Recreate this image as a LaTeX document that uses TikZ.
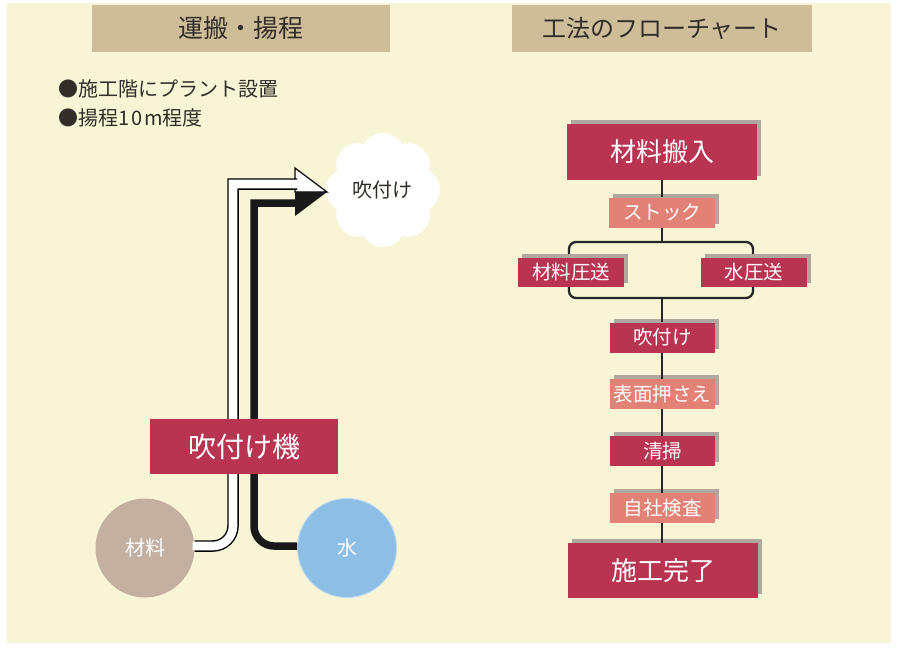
\documentclass[tikz,border=0pt]{standalone}
\usepackage{fontspec}
\setmainfont{Noto Sans CJK JP}
\usetikzlibrary{shadows,calc}
\definecolor{cream}{RGB}{248,245,214}
\definecolor{tan}{RGB}{205,189,152}
\definecolor{crimson}{RGB}{184,52,80}
\definecolor{salmon}{RGB}{226,130,118}
\definecolor{taupe}{RGB}{196,176,160}
\definecolor{sky}{RGB}{140,190,230}
\definecolor{shadowgray}{RGB}{176,168,158}
\definecolor{titletext}{RGB}{50,45,40}
\tikzset{
  fs/.style={font=\fontsize{#1}{#1}\selectfont},
  titlebox/.style={fill=tan, draw=none, text=titletext, fs=24, inner sep=0pt, minimum width=298, minimum height=47},
  flowbox/.style={fill=#1, text=white, inner sep=0pt, draw=none,
    drop shadow={shadow xshift=4pt, shadow yshift=4pt, fill=shadowgray, opacity=1}},
  bigbox/.style={flowbox=crimson, minimum width=190, minimum height=56, fs=26},
  smallbox/.style={flowbox=#1, minimum width=106, minimum height=30, fs=19.5},
  flowline/.style={line width=2.3pt, draw=black!85},
  circ/.style={circle, fill=#1, minimum size=99, inner sep=0pt, text=white, fs=20},
}
\begin{document}
\begin{tikzpicture}[x=1pt, y=-1pt]
\useasboundingbox (0,0) rectangle (899,648);
\fill[white] (0,0) rectangle (899,648);
\fill[cream] (7,3) rectangle (891,643);

% titles
\node[titlebox, fs=25] (t1) at (241,28.5) {運搬・揚程};
\node[titlebox, minimum width=300] (t2) at (662,28.5) {工法のフローチャート};

% bullets
\node[anchor=west, fs=20, text=titletext, inner sep=0pt] (b1) at (58,89) {●施工階にプラント設置};
\node[anchor=west, fs=20, text=titletext, inner sep=0pt] (b2) at (58,118) {●揚程1\hspace{2pt}0\hspace{2pt}m程度};

% cloud
\foreach \a in {0,45,...,315}{
  \fill[white] ($(383,190)+(\a:35)$) circle (22);
}
\fill[white] (383,190) circle (42);
\node[fs=20, text=titletext] (cloud) at (382,190) {吹付け};

% circles
\node[circ=taupe] (mat) at (145,548) {材料};
\node[circ=sky, draw=sky!60!white, line width=1pt] (water) at (347,548) {水};

% white arrow
\coordinate (wtop) at (295,168);
\coordinate (tip) at (327,192);
\coordinate (btm) at (295,216);
\filldraw[fill=white, draw=black, line width=1.2pt] (wtop) -- (tip) -- (295,192) -- cycle;
\draw[line width=11.5pt, black] (mat.east) ++(0,-2) -- (213,546) [rounded corners=20] -- (233,546) -- (233,300) [sharp corners] -- (233,184) -- (297,184);
\draw[line width=8.6pt, white] (mat.east) ++(-2,-2) -- (213,546) [rounded corners=20] -- (233,546) -- (233,300) [sharp corners] -- (233,184) -- (297.5,184);
% black arrow
\draw[line width=7.5pt, black!90] (water.west) ++(0,-2) -- (274,546) [rounded corners=20] -- (254,546) -- (254,300) [sharp corners] -- (254,203) -- (297,203);
\fill[black!90] (295,192) -- (tip) -- (btm) -- cycle;

% machine box
\node[fill=crimson, text=white, fs=28, minimum width=188, minimum height=55, inner sep=0pt] (machine) at (244,446.5) {吹付け機};

% flowchart
\draw[line width=2.3pt, draw=black!85, rounded corners=7] (569,242) rectangle (753,298);
\node[bigbox] (s1) at (662,151.5) {材料搬入};
\node[smallbox=salmon] (s2) at (662,212.5) {ストック};
\node[smallbox=crimson, minimum height=29] (s3a) at (571,272.5) {材料圧送};
\node[smallbox=crimson, minimum height=29] (s3b) at (754,272.5) {水圧送};
\node[smallbox=crimson, minimum width=105] (s4) at (662.5,337.5) {吹付け};
\node[smallbox=salmon, minimum width=105] (s5) at (662.5,394) {表面押さえ};
\node[smallbox=crimson, minimum width=105] (s6) at (662.5,451) {清掃};
\node[smallbox=salmon, minimum width=105] (s7) at (662.5,508) {自社検査};
\node[bigbox, minimum height=55] (s8) at (663,570.5) {施工完了};
\coordinate (brtop) at (662,242);
\coordinate (brbot) at (662,298);
\draw[flowline] (s1.south) -- (s2.north);
\draw[flowline] (s2.south) -- (brtop);
\draw[flowline] (brbot) -- (brbot |- s4.north);
\draw[flowline] (s4.south -| brbot) -- (s5.north -| brbot);
\draw[flowline] (s5.south -| brbot) -- (s6.north -| brbot);
\draw[flowline] (s6.south -| brbot) -- (s7.north -| brbot);
\draw[flowline] (s7.south -| brbot) -- (s8.north -| brbot);
\end{tikzpicture}
\end{document}
